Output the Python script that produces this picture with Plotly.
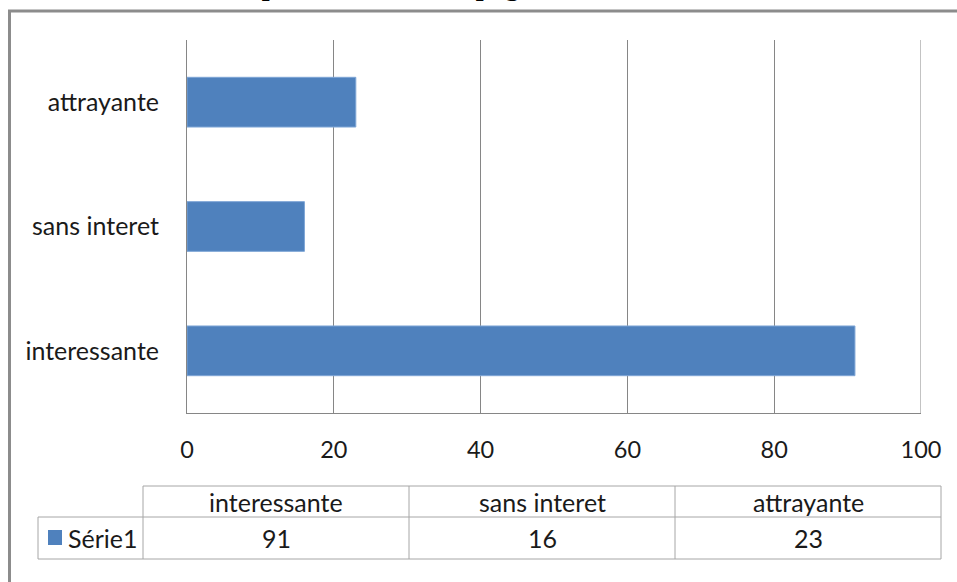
import plotly.graph_objects as go

# Survey answers (series "Série1")
categories = ["interessante", "sans interet", "attrayante"]
values = [91, 16, 23]
series_name = "Série1"
x_ticks = [0, 20, 40, 60, 80, 100]
title_text = "Que pensez-vous de la page d'accueil ?"

W, H = 957, 582
ML, MR, MT, MB = 187, 36, 40, 169
PW, PH = W - ML - MR, H - MT - MB

BAR = "#4F81BD"
GRID = "#868686"
TABLE_LINE = "#a6a6a6"
TXT = "#1a1a1a"
FONT = "Lato"
LABEL_SIZE = 25


def px_x(p):
    return (p - ML) / PW


def px_y(p):
    return (H - MB - p) / PH


fig = go.Figure(
    go.Bar(
        x=values,
        y=categories,
        orientation="h",
        name=series_name,
        marker=dict(color=BAR, line=dict(color="#7fa6d6", width=1)),
        hoverinfo="x+y",
    )
)

fig.update_layout(
    width=W,
    height=H,
    margin=dict(l=ML, r=MR, t=MT, b=MB, pad=0),
    paper_bgcolor="white",
    plot_bgcolor="white",
    showlegend=False,
    bargap=0.6,
    font=dict(family=FONT, size=LABEL_SIZE, color=TXT),
)

fig.update_xaxes(
    range=[x_ticks[0], x_ticks[-1]],
    tickvals=x_ticks,
    ticktext=[str(v) for v in x_ticks],
    showgrid=True,
    gridcolor=GRID,
    gridwidth=1,
    zeroline=False,
    showline=True,
    linecolor=GRID,
    linewidth=1,
    ticks="",
    ticklabelstandoff=16,
    tickfont=dict(family=FONT, size=23.5, color=TXT),
    fixedrange=True,
)
fig.update_yaxes(
    type="category",
    categoryorder="array",
    categoryarray=categories,
    showgrid=False,
    zeroline=False,
    showline=True,
    linecolor=GRID,
    linewidth=1,
    ticks="",
    ticklabelstandoff=22,
    tickfont=dict(family=FONT, size=LABEL_SIZE, color=TXT),
    fixedrange=True,
)

shapes = []
annotations = []

# gridline at the end of the value axis (plot edge)
shapes.append(dict(
    type="line", xref="x", yref="paper",
    x0=x_ticks[-1], x1=x_ticks[-1], y0=0, y1=1,
    line=dict(color=GRID, width=1),
))

# outer chart frame (continues past the right and bottom edges)
shapes.append(dict(
    type="rect", xref="paper", yref="paper",
    x0=px_x(9.5), x1=px_x(1000), y0=px_y(11), y1=px_y(700),
    line=dict(color="#8c8c8c", width=3), fillcolor="rgba(0,0,0,0)", layer="below",
))

# title sitting above the frame
annotations.append(dict(
    text=f"<b>{title_text}</b>", xref="paper", yref="paper",
    x=px_x(203), y=px_y(3), xanchor="left", yanchor="bottom", showarrow=False,
    font=dict(family="Liberation Serif", size=28, color="#000000"),
))

# data table below the axis
col_edges = [143, 409, 675, 941]
key_left = 38
row_top, row_mid, row_bot = 486, 517, 559


def hline(y, x0, x1):
    shapes.append(dict(type="line", xref="paper", yref="paper",
                       x0=px_x(x0), x1=px_x(x1), y0=px_y(y), y1=px_y(y),
                       line=dict(color=TABLE_LINE, width=1)))


def vline(x, y0, y1):
    shapes.append(dict(type="line", xref="paper", yref="paper",
                       x0=px_x(x), x1=px_x(x), y0=px_y(y0), y1=px_y(y1),
                       line=dict(color=TABLE_LINE, width=1)))


hline(row_top, col_edges[0], col_edges[-1])
hline(row_mid, key_left, col_edges[-1])
hline(row_bot, key_left, col_edges[-1])
vline(key_left, row_mid, row_bot)
for xe in col_edges:
    vline(xe, row_top, row_bot)

for i, (cat, val) in enumerate(zip(categories, values)):
    cx = (col_edges[i] + col_edges[i + 1]) / 2
    annotations.append(dict(
        text=cat, xref="paper", yref="paper", x=px_x(cx), y=px_y((row_top + row_mid) / 2),
        xanchor="center", yanchor="middle", showarrow=False,
        font=dict(family=FONT, size=LABEL_SIZE, color=TXT),
    ))
    annotations.append(dict(
        text=str(val), xref="paper", yref="paper", x=px_x(cx), y=px_y((row_mid + row_bot) / 2),
        xanchor="center", yanchor="middle", showarrow=False,
        font=dict(family=FONT, size=LABEL_SIZE, color=TXT),
    ))

# legend key in the table's row header
shapes.append(dict(
    type="rect", xref="paper", yref="paper",
    x0=px_x(48), x1=px_x(62), y0=px_y(530), y1=px_y(545),
    line=dict(width=0), fillcolor=BAR,
))
annotations.append(dict(
    text=series_name, xref="paper", yref="paper", x=px_x(66), y=px_y((row_mid + row_bot) / 2),
    xanchor="left", yanchor="middle", showarrow=False,
    font=dict(family=FONT, size=LABEL_SIZE, color=TXT),
))

fig.update_layout(shapes=shapes, annotations=annotations)

fig.write_html("out.html", config={"displayModeBar": False})
